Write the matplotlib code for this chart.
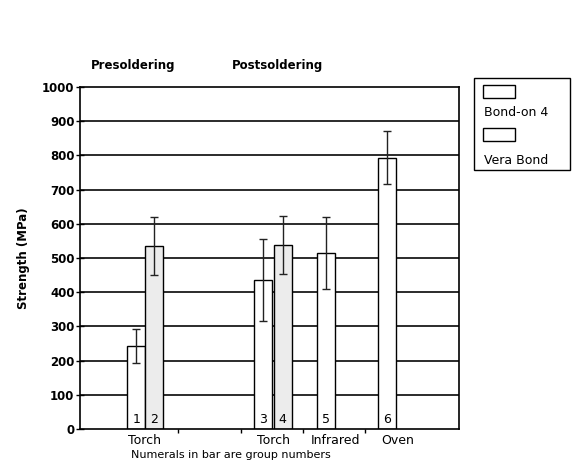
import matplotlib.pyplot as plt
from matplotlib.patches import Rectangle

plt.rcParams['font.family'] = ['DejaVu Sans']

# dados
grupos = ['1', '2', '3', '4', '5', '6']
resistencia = [243, 536, 436, 538, 514, 793]
erro = [50, 85, 120, 85, 105, 77]
material = ['Bond-on 4', 'Vera Bond', 'Bond-on 4', 'Vera Bond', 'Bond-on 4', 'Bond-on 4']
posicoes = [0.90, 1.19, 2.94, 3.25, 3.95, 4.93]
rotulos_x = ['Torch', 'Torch', 'Infrared', 'Oven']
pos_rotulos = [1.03, 3.10, 4.10, 5.09]
ticks_x = [1.57, 2.58, 3.57, 4.57]

cores = {'Bond-on 4': 'white', 'Vera Bond': '#ececec'}

fig = plt.figure(figsize=(5.76, 4.61), dpi=100)
ax = fig.add_axes([0.139, 0.0694, 0.658, 0.742])

ax.set_xlim(0, 6.08)
ax.set_ylim(0, 1000)
ax.set_yticks(range(0, 1001, 100))
for v in range(100, 1000, 100):
    ax.axhline(v, color='#1a1a1a', lw=1.3, zorder=1)

for x, h, e, m, g in zip(posicoes, resistencia, erro, material, grupos):
    ax.bar(x, h, width=0.29, color=cores[m], edgecolor='black', lw=1.0, zorder=2)
    ax.errorbar(x, h, yerr=e, fmt='none', ecolor='#222222', elinewidth=1.0,
                capsize=3, capthick=1.0, zorder=3)
    ax.text(x, 10, g, ha='center', va='bottom', fontsize=9, zorder=4)

ax.set_xticks(ticks_x)
ax.set_xticklabels([])
ax.tick_params(axis='x', direction='out', length=3, width=1)
ax.tick_params(axis='y', direction='inout', length=6, width=1, labelsize=8.5, pad=1)
for t in ax.get_yticklabels():
    t.set_fontweight('bold')
for xr, r in zip(pos_rotulos, rotulos_x):
    ax.text(xr, -16, r, ha='center', va='top', fontsize=9)

for s in ax.spines.values():
    s.set_linewidth(1.2)

ax.set_ylabel('Strength (MPa)', fontsize=8.5, fontweight='bold', labelpad=9)

fig.text(0.157, 0.857, 'Presoldering', fontsize=8.5, fontweight='bold', ha='left', va='center')
fig.text(0.403, 0.857, 'Postsoldering', fontsize=8.5, fontweight='bold', ha='left', va='center')
fig.text(0.40, 0.002, 'Numerals in bar are group numbers', fontsize=8, ha='center', va='bottom')

# legenda desenhada a mao
fig.patches.append(Rectangle((0.823, 0.631), 0.167, 0.200, transform=fig.transFigure,
                             fill=False, edgecolor='black', lw=1.0))
fig.patches.append(Rectangle((0.839, 0.787), 0.055, 0.028, transform=fig.transFigure,
                             facecolor='white', edgecolor='black', lw=1.0))
fig.text(0.840, 0.755, 'Bond-on 4', fontsize=9, ha='left', va='center')
fig.patches.append(Rectangle((0.839, 0.694), 0.055, 0.028, transform=fig.transFigure,
                             facecolor='white', edgecolor='black', lw=1.0))
fig.text(0.840, 0.652, 'Vera Bond', fontsize=9, ha='left', va='center')

fig.savefig('out.png', dpi=100)
